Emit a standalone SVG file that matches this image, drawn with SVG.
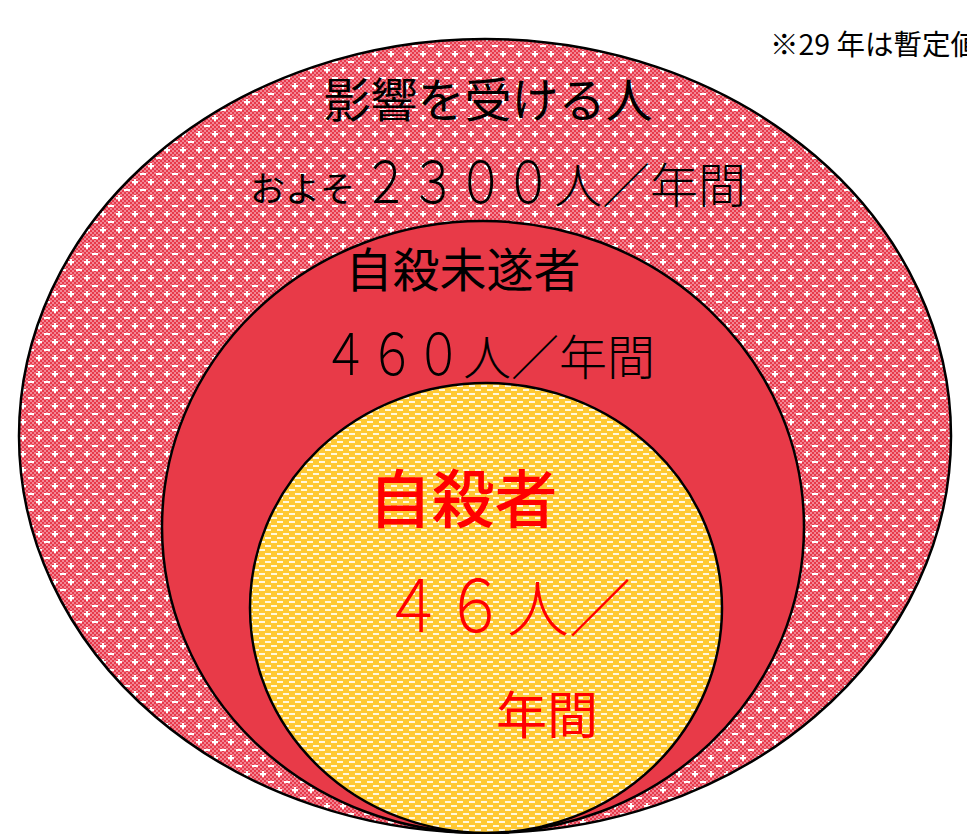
<svg xmlns="http://www.w3.org/2000/svg" width="967" height="834" viewBox="0 0 967 834">
<defs>
<pattern id="pinkPat" width="16" height="16" patternUnits="userSpaceOnUse">
<rect width="16" height="16" fill="#f28593"/>
<rect x="0" y="0" width="2" height="2" fill="#e8394b"/>
<rect x="4" y="0" width="2" height="2" fill="#e8394b"/>
<rect x="8" y="0" width="2" height="2" fill="#e8394b"/>
<rect x="12" y="0" width="2" height="2" fill="#e8394b"/>
<rect x="2" y="2" width="2" height="2" fill="#e8394b"/>
<rect x="6" y="2" width="2" height="2" fill="#e8394b"/>
<rect x="10" y="2" width="2" height="2" fill="#e8394b"/>
<rect x="14" y="2" width="2" height="2" fill="#e8394b"/>
<rect x="0" y="4" width="2" height="2" fill="#e8394b"/>
<rect x="4" y="4" width="2" height="2" fill="#e8394b"/>
<rect x="8" y="4" width="2" height="2" fill="#e8394b"/>
<rect x="12" y="4" width="2" height="2" fill="#e8394b"/>
<rect x="2" y="6" width="2" height="2" fill="#e8394b"/>
<rect x="6" y="6" width="2" height="2" fill="#e8394b"/>
<rect x="10" y="6" width="2" height="2" fill="#e8394b"/>
<rect x="14" y="6" width="2" height="2" fill="#e8394b"/>
<rect x="0" y="8" width="2" height="2" fill="#e8394b"/>
<rect x="4" y="8" width="2" height="2" fill="#e8394b"/>
<rect x="8" y="8" width="2" height="2" fill="#e8394b"/>
<rect x="12" y="8" width="2" height="2" fill="#e8394b"/>
<rect x="2" y="10" width="2" height="2" fill="#e8394b"/>
<rect x="6" y="10" width="2" height="2" fill="#e8394b"/>
<rect x="10" y="10" width="2" height="2" fill="#e8394b"/>
<rect x="14" y="10" width="2" height="2" fill="#e8394b"/>
<rect x="0" y="12" width="2" height="2" fill="#e8394b"/>
<rect x="4" y="12" width="2" height="2" fill="#e8394b"/>
<rect x="8" y="12" width="2" height="2" fill="#e8394b"/>
<rect x="12" y="12" width="2" height="2" fill="#e8394b"/>
<rect x="2" y="14" width="2" height="2" fill="#e8394b"/>
<rect x="6" y="14" width="2" height="2" fill="#e8394b"/>
<rect x="10" y="14" width="2" height="2" fill="#e8394b"/>
<rect x="14" y="14" width="2" height="2" fill="#e8394b"/>
<rect x="4" y="5" width="6" height="2" fill="#ffffff"/>
<rect x="6" y="3" width="2" height="6" fill="#ffffff"/>
<rect x="12" y="13" width="4" height="2" fill="#ffffff"/>
<rect x="0" y="13" width="2" height="2" fill="#ffffff"/>
</pattern>
<pattern id="yellowPat" width="12" height="8" patternUnits="userSpaceOnUse">
<rect width="12" height="8" fill="#ffc933"/>
<rect x="1" y="1" width="6" height="2" fill="#fff8e0"/>
<rect x="7" y="5" width="5" height="2" fill="#fff8e0"/>
<rect x="0" y="5" width="1" height="2" fill="#fff8e0"/>
</pattern>
<style>
.ring { stroke: #000; stroke-width: 2.5; }
.blk { font-family: "Noto Sans CJK JP", "Noto Sans", sans-serif; fill: #000; }
.red { font-family: "Noto Sans CJK JP", "Noto Sans", sans-serif; fill: #ff0000; }
.thin { font-weight: 300; }
</style>
</defs>
<rect width="967" height="834" fill="#ffffff"/>
<g id="outer">
<ellipse class="ring" cx="485" cy="436" rx="466" ry="397" fill="url(#pinkPat)"/>
</g>
<g id="middle">
<ellipse class="ring" cx="483" cy="527" rx="321" ry="306" fill="#e83a48"/>
</g>
<g id="inner">
<ellipse class="ring" cx="486" cy="608" rx="236" ry="225" fill="url(#yellowPat)"/>
</g>
<g id="connectors"></g>
<g id="labels">
<text class="blk" x="770" y="55" font-size="28.5">※29 年は暫定値</text>
<text class="blk" x="488" y="117" font-size="47" text-anchor="middle">影響を受ける人</text>
<text class="blk" x="250" y="202" font-size="35">およそ</text>
<text class="blk thin" transform="translate(362,203) scale(0.833,1)" x="0" y="0" font-size="57">２３００</text>
<text class="blk thin" x="554" y="203" font-size="48">人／年間</text>
<text class="blk" x="463" y="287" font-size="47" text-anchor="middle">自殺未遂者</text>
<text class="blk thin" transform="translate(322,375) scale(0.819,1)" x="0" y="0" font-size="57">４６０</text>
<text class="blk thin" x="463" y="375" font-size="48">人／年間</text>
<text class="red" x="463" y="522" font-size="63" font-weight="500" text-anchor="middle">自殺者</text>
<text class="red thin" transform="translate(382,632) scale(0.861,1)" x="0" y="0" font-size="72">４６</text>
<text class="red thin" x="507" y="632" font-size="62">人／</text>
<text class="red" x="547" y="734" font-size="51" text-anchor="middle">年間</text>
</g>
</svg>
